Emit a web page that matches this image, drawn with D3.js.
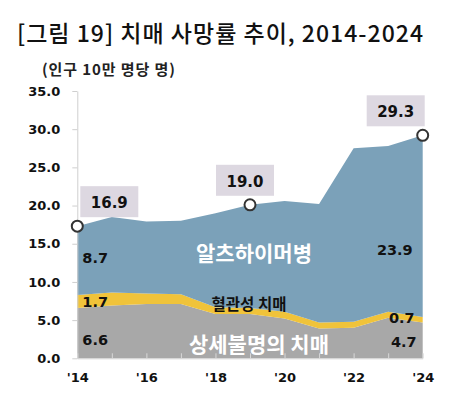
<!DOCTYPE html>
<html>
<head>
<meta charset="utf-8">
<script src="https://cdn.jsdelivr.net/npm/d3@7"></script>
<style>
  body { margin: 0; background: #fff; }
  svg { display: block; }
  .tick text { font-family: "DejaVu Sans", sans-serif; font-weight: bold; font-size: 13px; fill: #111; }
</style>
</head>
<body>
<svg width="472" height="406"></svg>
<script>
const years = [2014, 2015, 2016, 2017, 2018, 2019, 2020, 2021, 2022, 2023, 2024];
const unspecified = [6.6, 6.9, 7.1, 7.1, 5.8, 5.8, 5.2, 3.9, 4.0, 5.3, 4.7];
const vascular    = [1.7, 1.7, 1.4, 1.3, 0.9, 0.8, 0.9, 0.8, 0.8, 0.8, 0.7];
const alzheimer   = [9.0, 9.9, 9.4, 9.6, 12.3, 13.5, 14.5, 15.5, 22.7, 21.7, 23.8];
const yTicks = [0, 5, 10, 15, 20, 25, 30, 35];
const xTickLabels = ["'14", "'16", "'18", "'20", "'22", "'24"];
const calloutYears = [2014, 2019, 2024];
const calloutTexts = ["16.9", "19.0", "29.3"];

const svg = d3.select("svg");
const x = d3.scaleLinear().domain([2014, 2024]).range([77.3, 422.7]);
const y = d3.scaleLinear().domain([0, 35]).range([358.3, 91]);

const rows = years.map((yr, i) => ({
    year: yr,
    unspecified: unspecified[i],
    vascular: vascular[i],
    alzheimer: alzheimer[i]
}));
const keys = ["unspecified", "vascular", "alzheimer"];
const colors = { unspecified: "#a8a8a8", vascular: "#f0c33a", alzheimer: "#7ba1b9" };
const layers = d3.stack().keys(keys)(rows);

const area = d3.area()
    .x(d => x(d.data.year))
    .y0(d => y(d[0]))
    .y1(d => y(d[1]));

svg.append("g").selectAll("path")
    .data(layers)
    .enter()
    .append("path")
    .attr("d", area)
    .attr("fill", d => colors[d.key]);

// title
svg.append("text")
    .attr("x", 17).attr("y", 42)
    .attr("textLength", 406)
    .attr("lengthAdjust", "spacing")
    .style("font-family", "'Noto Sans CJK KR', sans-serif")
    .style("font-size", "23px")
    .style("font-weight", 500)
    .attr("fill", "#111")
    .text("[그림 19]  치매  사망률  추이,  2014-2024");

// unit
svg.append("text")
    .attr("x", 42).attr("y", 75)
    .attr("textLength", 133)
    .attr("lengthAdjust", "spacing")
    .style("font-family", "'Noto Sans CJK KR', sans-serif")
    .style("font-size", "15px")
    .style("font-weight", "bold")
    .attr("fill", "#222")
    .text("(인구 10만 명당 명)");

// y axis
const yAxis = svg.append("g")
    .attr("transform", `translate(${x(2014)},0)`)
    .call(d3.axisLeft(y).tickValues(yTicks).tickFormat(d3.format(".1f")).tickSize(5).tickPadding(12).tickSizeOuter(0));
yAxis.select(".domain").attr("stroke", "#cfcfcf");
yAxis.selectAll(".tick line").attr("stroke", "#cfcfcf");

// x axis
const xAxis = svg.append("g")
    .attr("transform", `translate(0,${y(0)})`)
    .call(d3.axisBottom(x).tickValues(years).tickSize(-5).tickSizeOuter(0).tickPadding(14)
        .tickFormat(d => (d % 2 === 0 ? xTickLabels[(d - 2014) / 2] : "")));
xAxis.select(".domain").attr("stroke", "#cfcfcf");
xAxis.selectAll(".tick line").attr("stroke", "#d8d8d8");

// totals with callouts
const totals = years.map((yr, i) => unspecified[i] + vascular[i] + alzheimer[i]);
const boxShift = [32, -5, -27];
calloutYears.forEach((yr, i) => {
    const px = x(yr), py = y(totals[years.indexOf(yr)]);
    const cx = px + boxShift[i];
    svg.append("rect")
        .attr("x", cx - 29).attr("y", py - 40)
        .attr("width", 58).attr("height", 31)
        .attr("fill", "#ddd8e1");
    svg.append("text")
        .attr("x", cx).attr("y", py - 18)
        .attr("text-anchor", "middle")
        .style("font-family", "'DejaVu Sans', sans-serif")
        .style("font-size", "15px")
        .style("font-weight", "bold")
        .attr("fill", "#111")
        .text(calloutTexts[i]);
    svg.append("circle")
        .attr("cx", px).attr("cy", py).attr("r", 5.5)
        .attr("fill", "#fff").attr("stroke", "#333").attr("stroke-width", 2);
});

// series value labels
const valueLabels = [
    { text: "8.7",  xx: x(2014) + 5, yy: y(12.5), anchor: "start" },
    { text: "1.7",  xx: x(2014) + 5, yy: y(6.7),  anchor: "start" },
    { text: "6.6",  xx: x(2014) + 5, yy: y(1.75), anchor: "start" },
    { text: "23.9", xx: x(2024) - 10, yy: y(13.5), anchor: "end" },
    { text: "0.7",  xx: x(2024) - 8, yy: y(4.6),  anchor: "end" },
    { text: "4.7",  xx: x(2024) - 6, yy: y(1.45), anchor: "end" }
];
svg.append("g").selectAll("text")
    .data(valueLabels)
    .enter()
    .append("text")
    .attr("x", d => d.xx).attr("y", d => d.yy)
    .attr("text-anchor", d => d.anchor)
    .style("font-family", "'DejaVu Sans', sans-serif")
    .style("font-size", "14.5px")
    .style("font-weight", "bold")
    .attr("fill", "#111")
    .text(d => d.text);

// series names
const seriesNames = [
    { text: "알츠하이머병", xx: 254, yy: y(12.7), size: 21, color: "#fff" },
    { text: "혈관성 치매", xx: 249, yy: y(6.3), size: 15.5, color: "#111" },
    { text: "상세불명의 치매", xx: 259, yy: y(0.85), size: 21, color: "#fff" }
];
svg.append("g").selectAll("text")
    .data(seriesNames)
    .enter()
    .append("text")
    .attr("x", d => d.xx).attr("y", d => d.yy)
    .attr("text-anchor", "middle")
    .style("font-family", "'Noto Sans CJK KR', sans-serif")
    .style("font-size", d => d.size + "px")
    .style("font-weight", "bold")
    .attr("fill", d => d.color)
    .text(d => d.text);
</script>
</body>
</html>
